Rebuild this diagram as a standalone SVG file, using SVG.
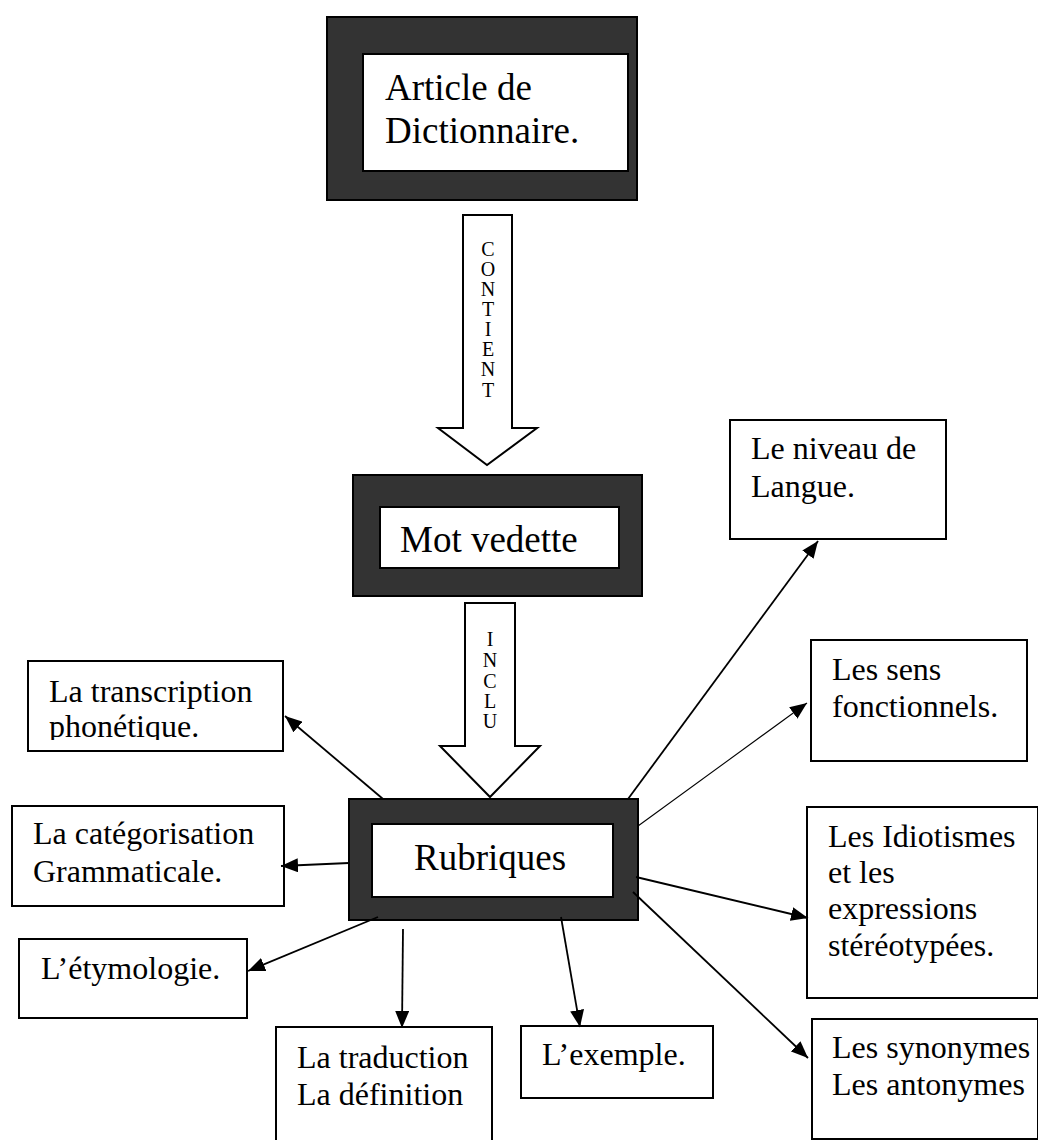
<svg xmlns="http://www.w3.org/2000/svg" width="1038" height="1140" viewBox="0 0 1038 1140">
<defs>
<style>
text{font-family:"Liberation Serif","Times New Roman",serif;fill:#000}
.big{font-size:37px}
.sm{font-size:32px}
.let{font-size:20px;text-anchor:middle}
.frame{fill:#333;stroke:#000;stroke-width:2}
.inner{fill:#fff;stroke:#000;stroke-width:2}
.box{fill:#fff;stroke:#000;stroke-width:2}
.block{fill:#fff;stroke:#000;stroke-width:2}
.conn{stroke:#000;stroke-width:1.8;fill:none;marker-end:url(#ah)}
.thin{stroke-width:1.1}
</style>
<marker id="ah" markerUnits="userSpaceOnUse" markerWidth="18" markerHeight="14" refX="17" refY="7" orient="auto">
<path d="M0,0 L17,7 L0,14 z" fill="#000"/>
</marker>
<clipPath id="clipPh"><rect x="28" y="661" width="255" height="79"/></clipPath>
</defs>

<g id="article">
<rect class="frame" x="327" y="17" width="310" height="183"/>
<rect class="inner" x="363" y="54" width="265" height="117"/>
<text class="big" x="385" y="100">Article de</text>
<text class="big" x="385" y="143">Dictionnaire.</text>
</g>

<g id="contient">
<polygon class="block" points="463,215 512,215 512,428 537,428 487,465 438,428 463,428"/>
<text class="let" x="488" y="256">C</text>
<text class="let" x="488" y="276">O</text>
<text class="let" x="488" y="296">N</text>
<text class="let" x="488" y="316">T</text>
<text class="let" x="488" y="336">I</text>
<text class="let" x="488" y="356">E</text>
<text class="let" x="488" y="376">N</text>
<text class="let" x="488" y="397">T</text>
</g>

<g id="mot-vedette">
<rect class="frame" x="353" y="475" width="289" height="121"/>
<rect class="inner" x="380" y="507" width="239" height="61"/>
<text class="big" x="400" y="552">Mot vedette</text>
</g>

<g id="inclu">
<polygon class="block" points="465,603 515,603 515,746 540,746 490,797 440,746 465,746"/>
<text class="let" x="490" y="646">I</text>
<text class="let" x="490" y="667">N</text>
<text class="let" x="490" y="688">C</text>
<text class="let" x="490" y="708">L</text>
<text class="let" x="490" y="728">U</text>
</g>

<g id="rubriques">
<rect class="frame" x="349" y="799" width="289" height="121"/>
<rect class="inner" x="372" y="824" width="241" height="73"/>
<text class="big" x="414" y="870">Rubriques</text>
</g>

<g id="transcription">
<rect class="box" x="28" y="661" width="255" height="90"/>
<text class="sm" x="49" y="702">La transcription</text>
<text class="sm" x="49" y="737" clip-path="url(#clipPh)">phonétique.</text>
</g>

<g id="categorisation">
<rect class="box" x="12" y="806" width="272" height="100"/>
<text class="sm" x="33" y="844">La catégorisation</text>
<text class="sm" x="33" y="882">Grammaticale.</text>
</g>

<g id="etymologie">
<rect class="box" x="19" y="939" width="228" height="79"/>
<text class="sm" x="41" y="979">L’étymologie.</text>
</g>

<g id="traduction">
<rect class="box" x="276" y="1027" width="216" height="130"/>
<text class="sm" x="297" y="1068">La traduction</text>
<text class="sm" x="297" y="1105">La définition</text>
</g>

<g id="exemple">
<rect class="box" x="521" y="1026" width="192" height="72"/>
<text class="sm" x="542" y="1065">L’exemple.</text>
</g>

<g id="niveau">
<rect class="box" x="730" y="420" width="216" height="119"/>
<text class="sm" x="751" y="459">Le niveau de</text>
<text class="sm" x="751" y="497">Langue.</text>
</g>

<g id="sens">
<rect class="box" x="811" y="640" width="216" height="121"/>
<text class="sm" x="832" y="680">Les sens</text>
<text class="sm" x="832" y="717">fonctionnels.</text>
</g>

<g id="idiotismes">
<rect class="box" x="807" y="807" width="231" height="191"/>
<text class="sm" x="828" y="847">Les Idiotismes</text>
<text class="sm" x="828" y="883">et les</text>
<text class="sm" x="828" y="919">expressions</text>
<text class="sm" x="828" y="956">stéréotypées.</text>
</g>

<g id="synonymes">
<rect class="box" x="812" y="1019" width="226" height="120"/>
<text class="sm" x="832" y="1058">Les synonymes</text>
<text class="sm" x="832" y="1095">Les antonymes</text>
</g>

<g id="connectors">
<line class="conn" x1="383" y1="799" x2="285" y2="716"/>
<line class="conn" x1="349" y1="863" x2="281" y2="866"/>
<line class="conn" x1="378" y1="917" x2="248" y2="971"/>
<line class="conn" x1="403" y1="929" x2="402" y2="1028"/>
<line class="conn" x1="561" y1="917" x2="580" y2="1027"/>
<line class="conn" x1="628" y1="799" x2="818" y2="541"/>
<line class="conn thin" x1="638" y1="826" x2="807" y2="703"/>
<line class="conn" x1="636" y1="877" x2="808" y2="918"/>
<line class="conn" x1="633" y1="892" x2="808" y2="1058"/>
</g>
</svg>
